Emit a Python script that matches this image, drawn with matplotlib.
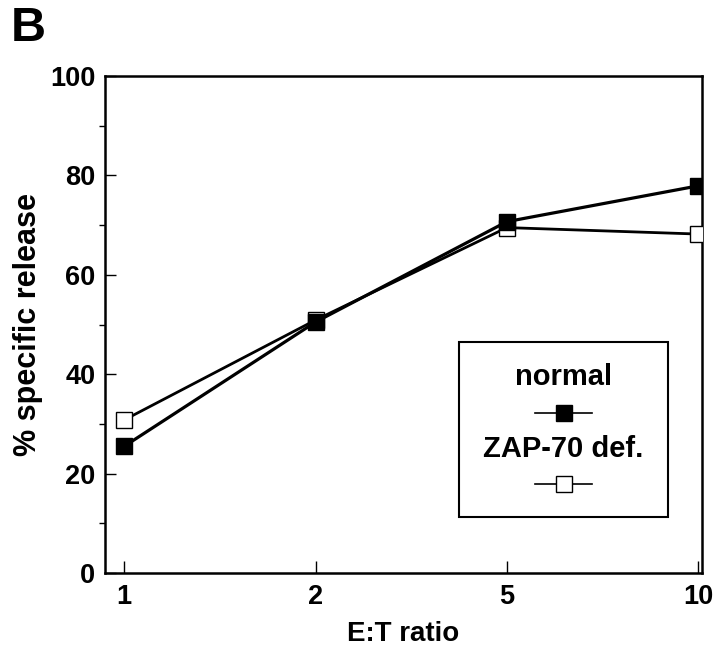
import numpy as np
import matplotlib
matplotlib.use("Agg")
from matplotlib import pyplot as plt
from matplotlib.patches import Rectangle
from matplotlib.ticker import MultipleLocator

plt.rcParams['font.family'] = ['Liberation Sans', 'DejaVu Sans']
plt.rcParams['font.weight'] = 'bold'

ratios = ['1', '2', '5', '10']
normal = [25.5, 50.5, 70.7, 77.9]
zap70 = [30.8, 50.9, 69.5, 68.2]
series_labels = ['normal', 'ZAP-70 def.']

fig = plt.figure(figsize=(7.2, 6.47), dpi=100)
ax = fig.add_axes([0.146, 0.1144, 0.829, 0.7681])

x = np.arange(len(ratios))
ax.plot(x, zap70, color='black', lw=2.0, marker='s', ms=12,
        mfc='white', mec='black', mew=1.0, zorder=3)
ax.plot(x, normal, color='black', lw=2.3, marker='s', ms=12,
        mfc='black', mec='black', zorder=4)

ax.set_xlim(-0.1, 3.02)
ax.set_ylim(0, 100)
ax.set_xticks(x)
ax.set_xticklabels(ratios)
ax.yaxis.set_major_locator(MultipleLocator(20))
ax.yaxis.set_minor_locator(MultipleLocator(10))
ax.tick_params(axis='both', direction='in', labelsize=19.5, width=1.0)
ax.tick_params(axis='x', length=9, pad=8)
ax.tick_params(axis='y', which='major', length=8, pad=7)
ax.tick_params(axis='y', which='minor', length=4, width=1.0)
for lab in ax.get_xticklabels() + ax.get_yticklabels():
    lab.set_fontweight('bold')
for s in ax.spines.values():
    s.set_linewidth(1.8)

ax.set_xlabel('E:T ratio', fontsize=20, fontweight='bold', labelpad=8)
ax.set_ylabel('% specific release', fontsize=22, fontweight='bold', labelpad=5)

# legend box drawn by hand (labels above the handles)
ax.add_patch(Rectangle((0.593, 0.1127), 0.35, 0.352, transform=ax.transAxes,
                       fill=False, ec='black', lw=1.5, zorder=5))
ax.text(0.768, 0.394, series_labels[0], transform=ax.transAxes, ha='center',
        va='center', fontsize=21, fontweight='bold')
ax.plot([0.72, 0.816], [0.3225, 0.3225], transform=ax.transAxes, color='black',
        lw=1.2, clip_on=False)
ax.plot([0.768], [0.3225], transform=ax.transAxes, marker='s', ms=12,
        mfc='black', mec='black', clip_on=False)
ax.text(0.768, 0.2495, series_labels[1], transform=ax.transAxes, ha='center',
        va='center', fontsize=21, fontweight='bold')
ax.plot([0.72, 0.816], [0.179, 0.179], transform=ax.transAxes, color='black',
        lw=1.2, clip_on=False)
ax.plot([0.768], [0.179], transform=ax.transAxes, marker='s', ms=12,
        mfc='white', mec='black', mew=1.0, clip_on=False)

fig.text(0.015, 0.99, 'B', fontsize=35, fontweight='bold', va='top', ha='left')

fig.savefig('out.png', dpi=100)
